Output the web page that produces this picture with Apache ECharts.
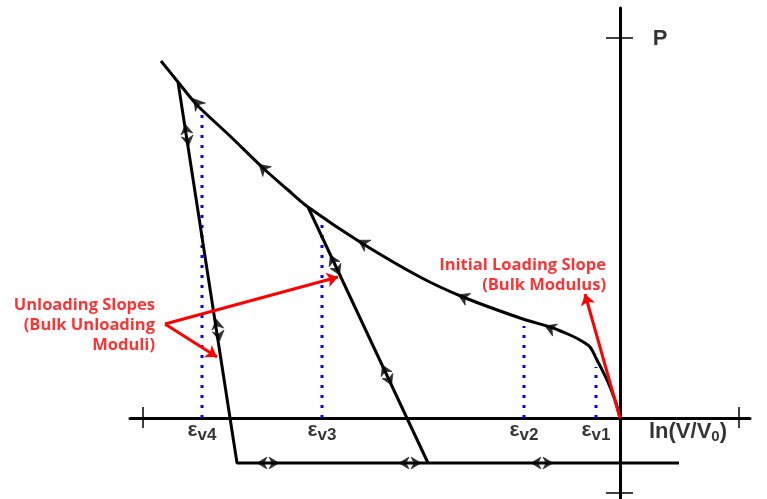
<!DOCTYPE html>
<html>
<head>
<meta charset="utf-8">
<script src="https://cdn.jsdelivr.net/npm/echarts@6/dist/echarts.min.js"></script>
<style>html,body{margin:0;padding:0;background:#fff;}#c{width:767px;height:499px;}</style>
</head>
<body>
<div id="c"></div>
<script>
// Loading curve (x = ln(V/V0), y = P), schematic units
const curveX = [-4.59,-4.42,-4.23,-3.90,-3.57,-3.32,-3.12,-2.60,-2.00,-1.57,-1.00,-0.67,-0.50,-0.40,-0.30,-0.23,-0.13,-0.05,0];
const curveY = [3.57,3.36,3.13,2.82,2.50,2.28,2.11,1.76,1.41,1.21,1.00,0.90,0.83,0.78,0.71,0.58,0.38,0.18,0];
// Unloading paths
const unload1 = [[-4.42,3.36],[-3.83,-0.45],[0.59,-0.45]];
const unload2 = [[-3.12,2.11],[-1.92,-0.45]];
// Dotted strain markers
const dotX = [-4.18,-2.98,-0.96,-0.24];
const dotTop = [3.03,1.93,0.92,0.51];
const epsSub = ['v4','v3','v2','v1'];
// Arrow marks
const curveArrows = [[-4.23,3.15],[-3.57,2.50],[-2.57,1.75],[-1.57,1.21],[-0.70,0.90]];
const line1Arrows = [[-4.33,2.83],[-4.02,0.88]];
const line2Arrows = [[-2.85,1.53],[-2.33,0.43]];
const bottomArrows = [[-3.52,-0.45],[-2.10,-0.45],[-0.78,-0.45]];
// Axis tick marks
const xTicks = [-4.77, 1.19];
const yTicks = [3.80, -0.75];
// Red annotation arrows
const redArrows = [
  [[0,0],[-0.35,1.24]],
  [[-4.55,0.94],[-2.82,1.41]],
  [[-4.55,0.94],[-4.03,0.61]]
];

const chart = echarts.init(document.getElementById('c'));
const HEAD = 'path://M5,0L10,10L5,7L0,10Z';

function rot(dx, dy){ return Math.atan2(dy, dx) * 180 / Math.PI - 90; }

const curvePts = curveX.map((x,i)=>[x,curveY[i]]);
function curveDir(p){
  let best=0, bd=1e9;
  for(let i=0;i<curvePts.length-1;i++){
    const mx=(curvePts[i][0]+curvePts[i+1][0])/2, my=(curvePts[i][1]+curvePts[i+1][1])/2;
    const d=(mx-p[0])**2+(my-p[1])**2;
    if(d<bd){bd=d;best=i;}
  }
  return [curvePts[best][0]-curvePts[best+1][0], curvePts[best][1]-curvePts[best+1][1]];
}
const arrowData = [];
curveArrows.forEach(p=>{
  const d = curveDir(p);
  arrowData.push({value:p, symbolRotate: rot(d[0],d[1]), symbolSize:[13,11]});
});
function doubleHeads(list, a, b){
  const dx=a[0]-b[0], dy=a[1]-b[1];
  const L=Math.hypot(dx,dy); const ux=dx/L, uy=dy/L; const off=0.06;
  list.forEach(p=>{
    arrowData.push({value:[p[0]+ux*off,p[1]+uy*off], symbolRotate: rot(ux,uy), symbolSize:[12,10]});
    arrowData.push({value:[p[0]-ux*off,p[1]-uy*off], symbolRotate: rot(-ux,-uy), symbolSize:[12,10]});
  });
}
doubleHeads(line1Arrows, unload1[0], unload1[1]);
doubleHeads(line2Arrows, unload2[0], unload2[1]);
doubleHeads(bottomArrows, unload1[2], unload1[1]);

const series = [];
dotX.forEach((x,i)=>{
  series.push({type:'line', data:[[x,0],[x,dotTop[i]]], symbol:'none', silent:true,
    lineStyle:{color:'#0000ff', width:3, type:[3,7]}, z:1});
});
series.push({type:'line', data:curvePts, smooth:0.3, symbol:'none',
  lineStyle:{color:'#000', width:3}, z:3});
series.push({type:'line', data:unload1, symbol:'none', lineStyle:{color:'#000', width:3}, z:3});
series.push({type:'line', data:unload2, symbol:'none', lineStyle:{color:'#000', width:3}, z:3});
series.push({type:'scatter', data:arrowData, symbol:HEAD, symbolKeepAspect:false,
  itemStyle:{color:'#000', borderColor:'#000', borderWidth:0.6}, z:4, silent:true});
const tickData = [];
xTicks.forEach(x=>tickData.push({coords:[[x,0.11],[x,-0.10]]}));
yTicks.forEach(y=>tickData.push({coords:[[-0.14,y],[0.13,y]]}));
series.push({type:'lines', coordinateSystem:'cartesian2d', data:tickData,
  lineStyle:{color:'#000', width:1.5, opacity:1}, symbol:'none', z:2});
series.push({type:'lines', coordinateSystem:'cartesian2d', data:redArrows.map(c=>({coords:c})),
  symbol:['none','arrow'], symbolSize:11,
  lineStyle:{color:'#ff0000', width:3, opacity:1}, itemStyle:{color:'#ff0000'}, z:6});
series.push({type:'scatter', symbolSize:0, z:7, silent:true,
  data: dotX.map((x,i)=>({value:[x,-0.14], name:epsSub[i]})),
  label:{show:true, position:'inside', formatter: p=>'{a|ε}{b|'+p.name+'}',
    rich:{a:{fontFamily:'Liberation Sans', fontWeight:'bold', fontSize:21, color:'#000', padding:[0,0,4,0]},
          b:{fontFamily:'Liberation Sans', fontWeight:'bold', fontSize:17, color:'#000', padding:[6,0,0,0]}}}});
series.push({type:'scatter', symbolSize:0, z:7, silent:true,
  data:[
    {value:[0.68,-0.14], label:{formatter:'{a|ln(V/V}{s|0}{a|)}'}},
    {value:[0.40,3.79], label:{formatter:'{a|P}'}}
  ],
  label:{show:true, position:'inside',
    rich:{a:{fontFamily:'Liberation Sans', fontWeight:'bold', fontSize:22, color:'#000'},
          s:{fontFamily:'Liberation Sans', fontWeight:'bold', fontSize:15, color:'#000', padding:[10,0,0,0]}}}});
series.push({type:'scatter', symbolSize:0, z:7, silent:true,
  data:[
    {value:[-0.14,1.425], label:{formatter:'Initial Loading Slope\n(Bulk Modulus)'}},
    {value:[-4.65,0.93], label:{formatter:'Unloading Slopes\n(Bulk Unloading\nModuli)'}}
  ],
  label:{show:true, position:'left', distance:0, align:'right', color:'#ff0000',
    fontFamily:'Open Sans', fontWeight:'bold', fontSize:16.5, lineHeight:20}});

chart.setOption({
  animation:false,
  grid:{left:130, right:17, top:8, bottom:1},
  xAxis:{type:'value', min:-4.9, max:1.3,
    axisLine:{onZero:true, lineStyle:{color:'#000', width:3}},
    axisTick:{show:false}, axisLabel:{show:false}, splitLine:{show:false}},
  yAxis:{type:'value', min:-0.8, max:4.1,
    axisLine:{onZero:true, lineStyle:{color:'#000', width:3}},
    axisTick:{show:false}, axisLabel:{show:false}, splitLine:{show:false}},
  series: series
});
</script>
</body>
</html>
